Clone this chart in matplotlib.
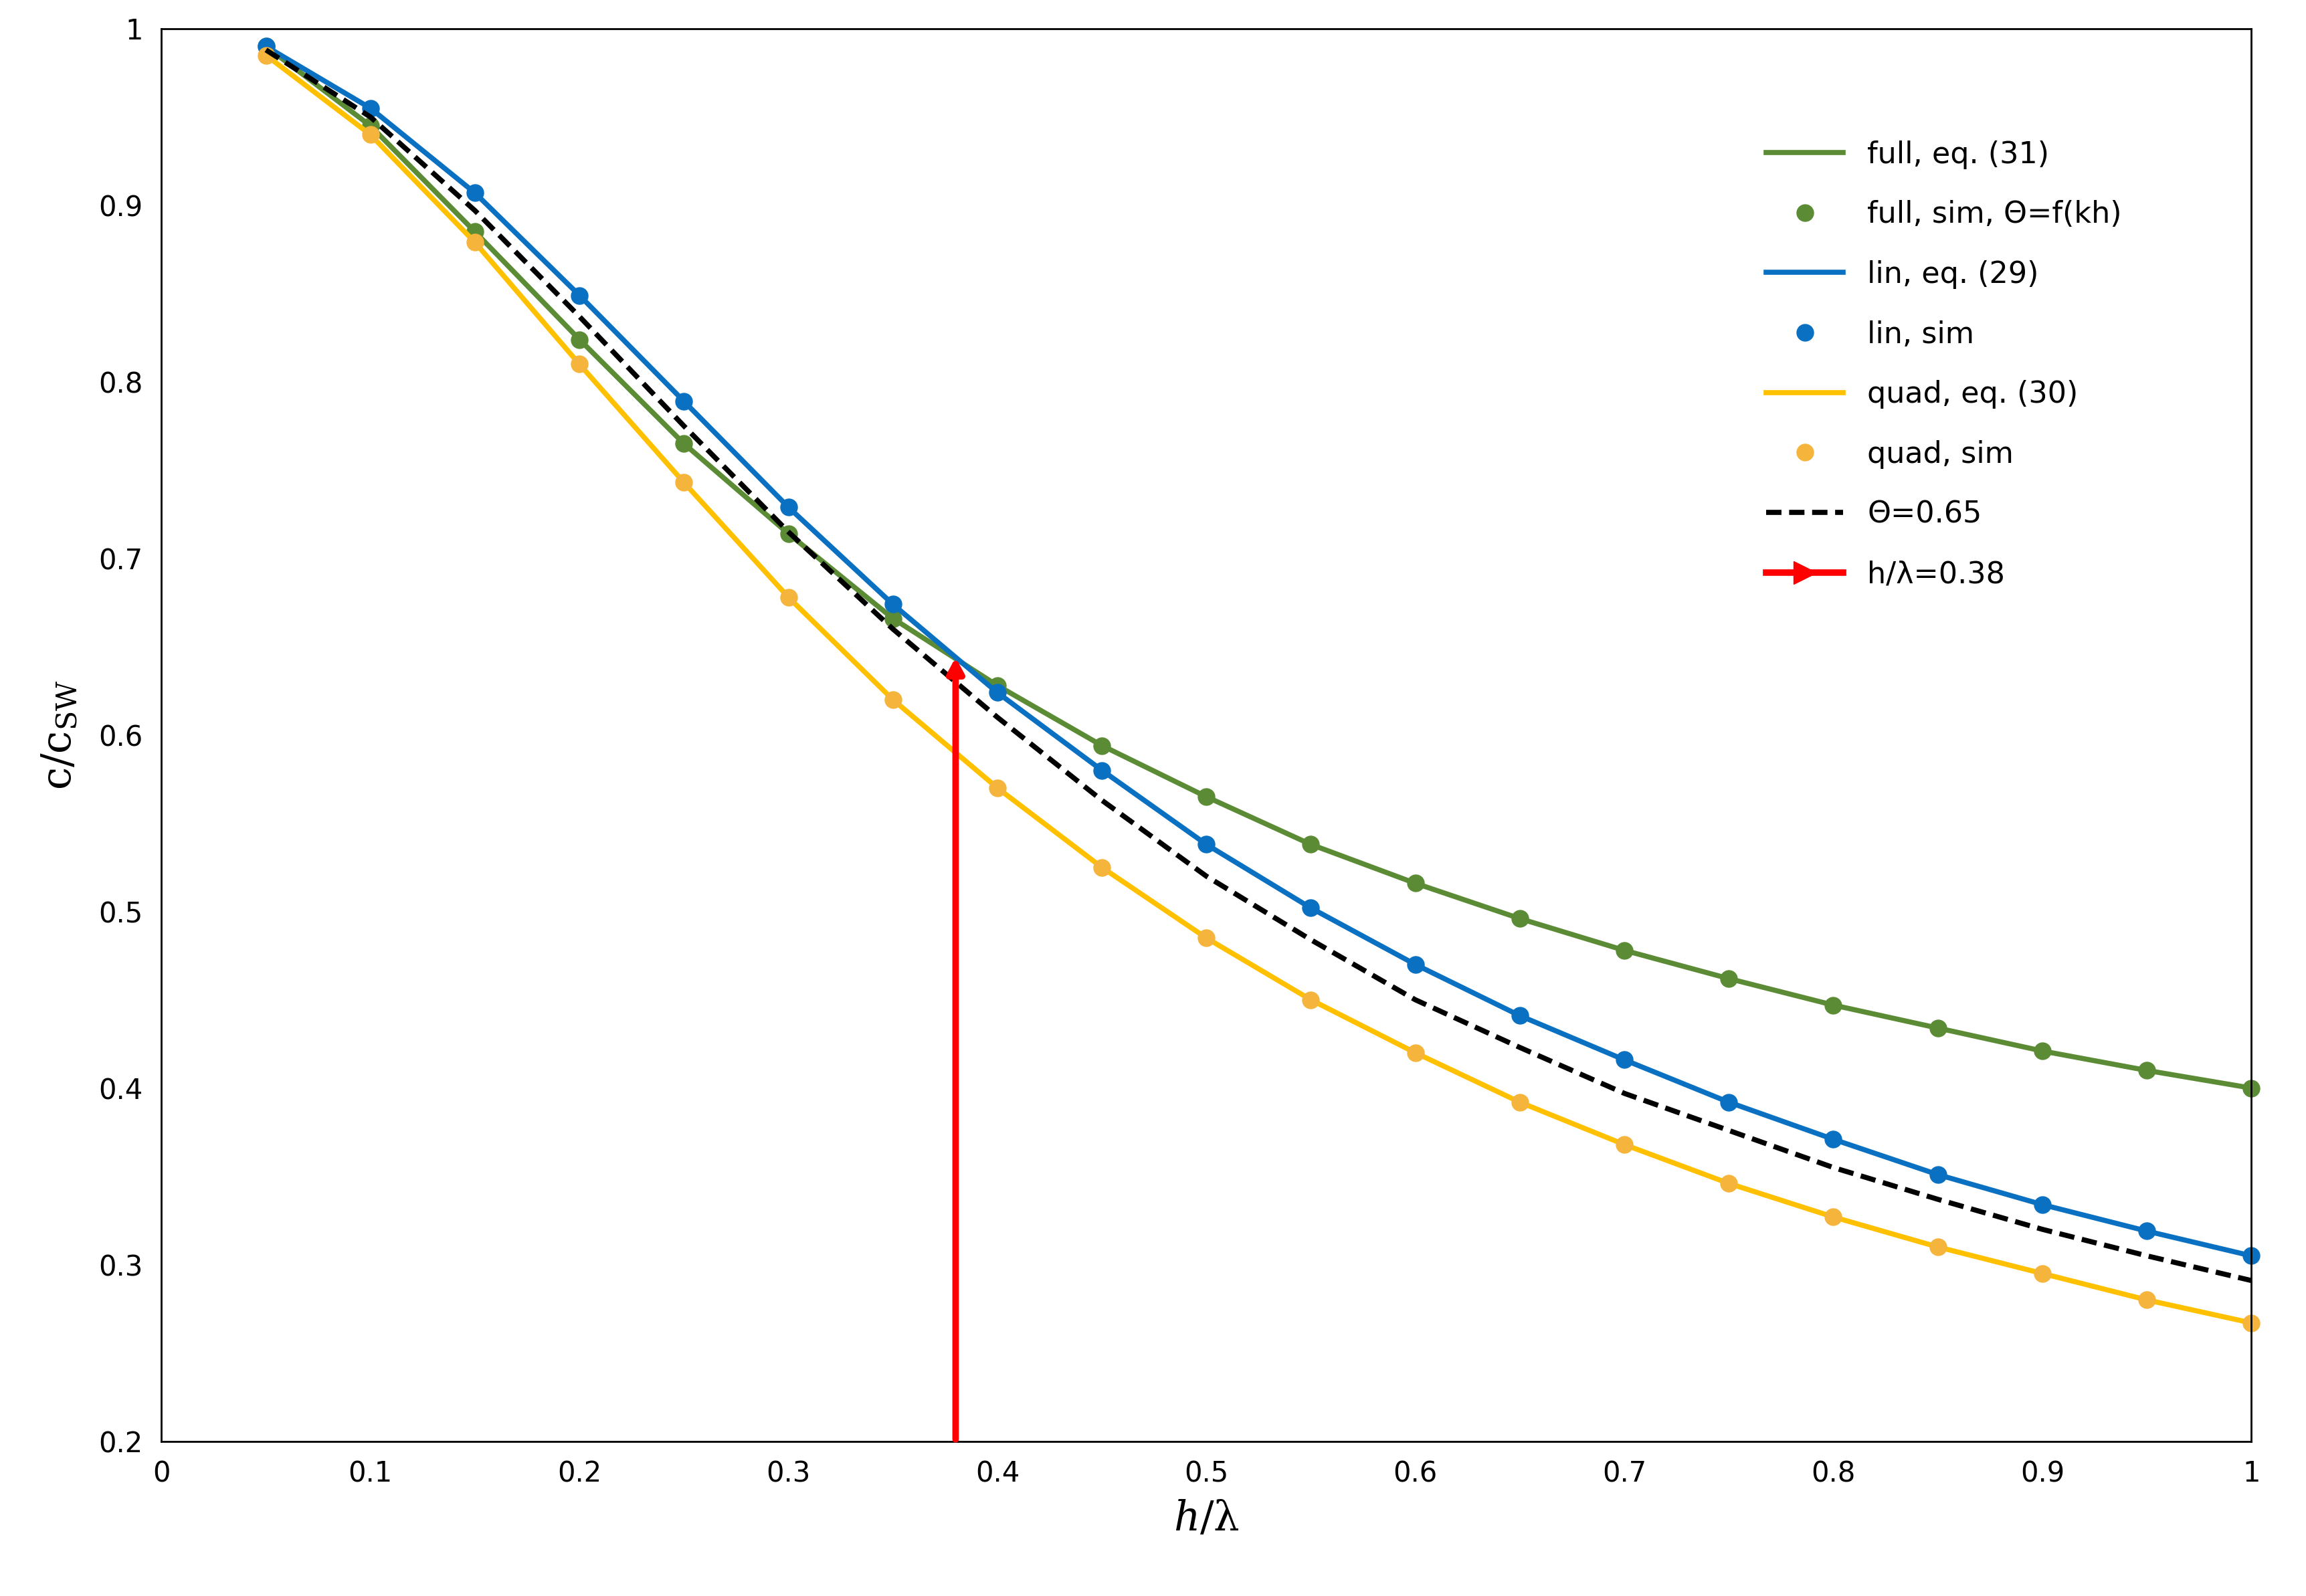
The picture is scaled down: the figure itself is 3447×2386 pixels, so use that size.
import numpy as np
import matplotlib.pyplot as plt

plt.rcParams['mathtext.fontset'] = 'dejavuserif'

h_lambda = [0.05, 0.10, 0.15, 0.20, 0.25, 0.30, 0.35, 0.40, 0.45, 0.50,
            0.55, 0.60, 0.65, 0.70, 0.75, 0.80, 0.85, 0.90, 0.95, 1.00]
full = [0.990, 0.945, 0.885, 0.824, 0.765, 0.714, 0.666, 0.628, 0.594, 0.565,
        0.538, 0.516, 0.496, 0.478, 0.462, 0.447, 0.434, 0.421, 0.410, 0.400]
lin = [0.990, 0.955, 0.907, 0.849, 0.789, 0.729, 0.674, 0.624, 0.580, 0.538,
       0.502, 0.470, 0.441, 0.416, 0.392, 0.371, 0.351, 0.334, 0.319, 0.305]
quad = [0.985, 0.940, 0.879, 0.810, 0.743, 0.678, 0.620, 0.570, 0.525, 0.485,
        0.450, 0.420, 0.392, 0.368, 0.346, 0.327, 0.310, 0.295, 0.280, 0.267]
theta065 = [0.988, 0.950, 0.897, 0.837, 0.775, 0.715, 0.660, 0.610, 0.563, 0.520,
            0.484, 0.450, 0.423, 0.397, 0.376, 0.355, 0.337, 0.320, 0.305, 0.291]
arrow_x = 0.38
arrow_top = 0.645

green, blue, yellow, orange = '#5b8c35', '#0a70c2', '#ffc000', '#f5b43c'

fig = plt.figure(figsize=(34.48, 23.86), dpi=100)
ax = fig.add_axes([0.070, 0.097, 0.906, 0.885])

lw = 5.5
ms = 18
ax.plot(h_lambda, full, color=green, lw=lw, label='full, eq. (31)')
ax.plot(h_lambda, full, 'o', color=green, ms=ms, clip_on=False,
        label='full, sim, Θ=f(kh)')
ax.plot(h_lambda, lin, color=blue, lw=lw, label='lin, eq. (29)')
ax.plot(h_lambda, lin, 'o', color=blue, ms=ms, clip_on=False, label='lin, sim')
ax.plot(h_lambda, quad, color=yellow, lw=lw, label='quad, eq. (30)')
ax.plot(h_lambda, quad, 'o', color=orange, ms=ms, clip_on=False,
        label='quad, sim')
ax.plot(h_lambda, theta065, '--', color='black', lw=lw, dashes=(3, 1.5),
        label='Θ=0.65')
ax.annotate('', xy=(arrow_x, arrow_top), xytext=(arrow_x, 0.2),
            arrowprops=dict(arrowstyle='-|>,head_width=0.7,head_length=1.3',
                            color='red', lw=7))
ax.plot([], [], color='red', lw=7, marker='>', markevery=[1], ms=24,
        label='h/λ=0.38')

ax.set_xlim(0, 1)
ax.set_ylim(0.2, 1)
ax.set_xticks(np.arange(0, 1.01, 0.1))
ax.set_xticklabels(['0'] + ['%g' % round(v, 1) for v in np.arange(0.1, 0.95, 0.1)] + ['1'])
ax.set_yticks(np.arange(0.2, 1.01, 0.1))
ax.set_yticklabels(['%g' % round(v, 1) for v in np.arange(0.2, 0.95, 0.1)] + ['1'])
ax.tick_params(labelsize=30, length=0, pad=20)
for s in ax.spines.values():
    s.set_linewidth(2)

ax.set_xlabel(r'$h$/λ', fontsize=44, family='DejaVu Serif', labelpad=12)
ax.set_ylabel(r'c/c$_{\mathrm{SW}}$', fontsize=44, family='DejaVu Serif',
              labelpad=20)

ax.legend(loc='upper left', bbox_to_anchor=(0.755, 0.94), frameon=False,
          fontsize=32, labelspacing=1.05, handlelength=2.6)

fig.savefig('out.png', dpi=100)
